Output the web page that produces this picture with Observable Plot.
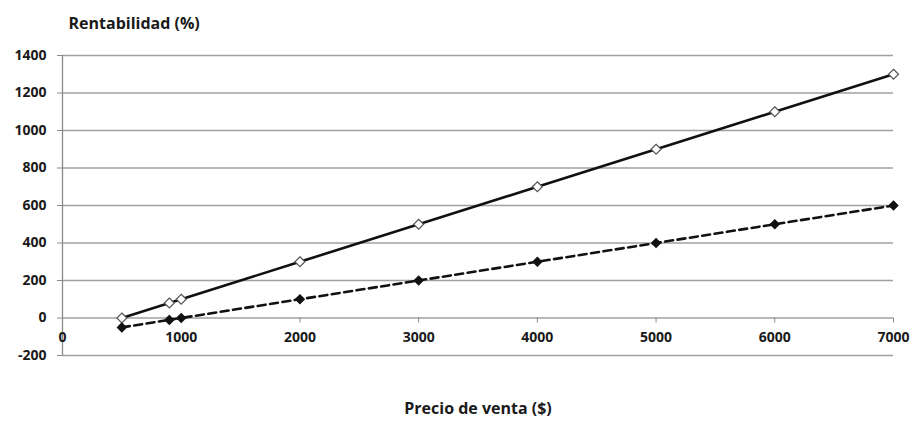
<!DOCTYPE html>
<html>
<head>
<meta charset="utf-8">
<script src="https://cdn.jsdelivr.net/npm/d3@7"></script>
<script src="https://cdn.jsdelivr.net/npm/@observablehq/plot@0.6"></script>
<style>
  html, body { margin: 0; padding: 0; background: #fff; }
  #chart svg { display: block; }
</style>
</head>
<body>
<div id="chart"></div>
<script>
// Data
const precios = [500, 900, 1000, 2000, 3000, 4000, 5000, 6000, 7000];
const rentabilidadA = [0, 80, 100, 300, 500, 700, 900, 1100, 1300];   // solid, open markers
const rentabilidadB = [-50, -10, 0, 100, 200, 300, 400, 500, 600];     // dashed, filled markers
const xTicks = [0, 1000, 2000, 3000, 4000, 5000, 6000, 7000];
const yTicks = [-200, 0, 200, 400, 600, 800, 1000, 1200, 1400];
const yTitle = "Rentabilidad (%)";
const xTitle = "Precio de venta ($)";

const serieA = precios.map((p, i) => ({x: p, y: rentabilidadA[i]}));
const serieB = precios.map((p, i) => ({x: p, y: rentabilidadB[i]}));

const W = 912, H = 421;
const mTop = 55, mBottom = 66, mLeft = 62, mRight = 19;
const yMin = -200, yMax = 1400;
const innerH = H - mTop - mBottom;
const zeroOffset = innerH * (0 - yMin) / (yMax - yMin);
const font = "'Open Sans', sans-serif";
const fmt = d => String(d);

const chart = Plot.plot({
  width: W,
  height: H,
  marginTop: mTop,
  marginBottom: mBottom,
  marginLeft: mLeft,
  marginRight: mRight,
  style: {fontFamily: font, fontSize: "14px", fontWeight: "bold", color: "#1a1a1a", background: "#fff"},
  x: {domain: [0, 7000]},
  y: {domain: [yMin, yMax]},
  marks: [
    Plot.gridY(yTicks, {stroke: "#a0a0a0", strokeOpacity: 1, strokeWidth: 1.3}),
    Plot.ruleX([0], {stroke: "#8a8a8a", strokeWidth: 1.3}),
    Plot.axisY(yTicks, {tickSize: 5, tickPadding: 11, stroke: "#8a8a8a", fontSize: 14, fontWeight: "bold", tickFormat: fmt, label: null}),
    Plot.axisX(xTicks, {anchor: "bottom", dy: -zeroOffset, tickSize: 5, tickPadding: 9, stroke: "#8a8a8a", fontSize: 14, fontWeight: "bold", tickFormat: fmt, label: null}),
    Plot.line(serieA, {x: "x", y: "y", stroke: "#111", strokeWidth: 2.6}),
    Plot.line(serieB, {x: "x", y: "y", stroke: "#111", strokeWidth: 2.6, strokeDasharray: "8,4.5"}),
    Plot.dot(serieA, {x: "x", y: "y", symbol: "diamond2", r: 4.5, fill: "#fff", stroke: "#555", strokeWidth: 1.2}),
    Plot.dot(serieB, {x: "x", y: "y", symbol: "diamond2", r: 3.8, fill: "#111", stroke: "#111"}),
    Plot.text([yTitle], {frameAnchor: "top-left", dx: 6, dy: -38, text: d => d, fontSize: 16, fontWeight: "bold", textAnchor: "start"}),
    Plot.text([xTitle], {frameAnchor: "bottom", dy: 58, text: d => d, fontSize: 16, fontWeight: "bold"})
  ]
});
document.getElementById("chart").appendChild(chart);
</script>
</body>
</html>
